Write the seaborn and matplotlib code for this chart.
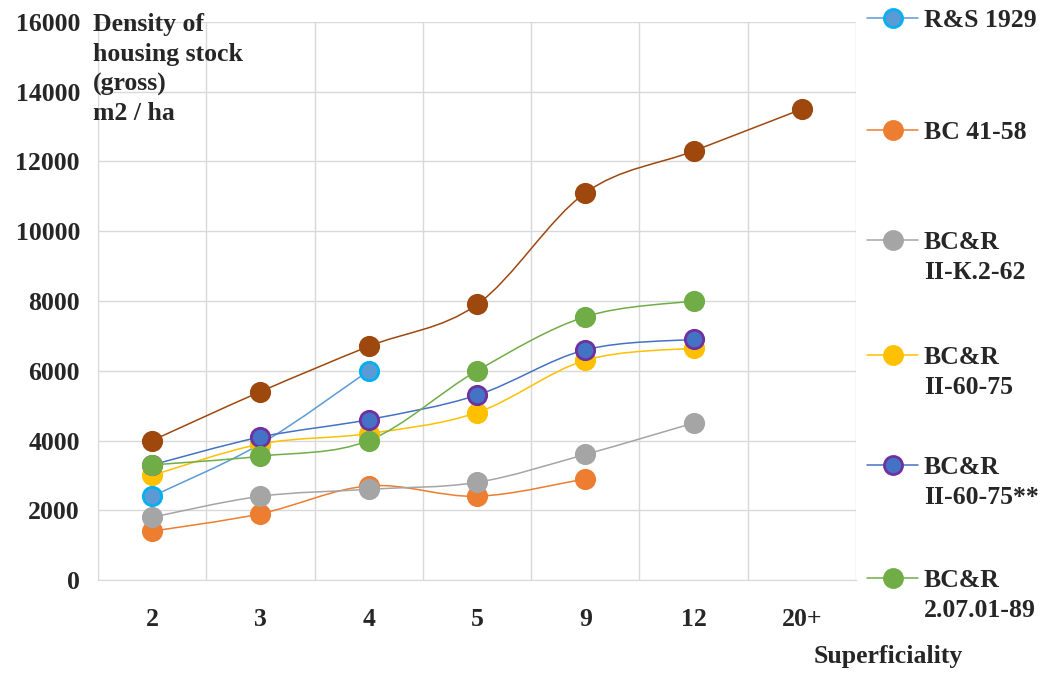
import numpy as np
import pandas as pd
import matplotlib.pyplot as plt
import seaborn as sns
from matplotlib.path import Path
from matplotlib.patches import PathPatch
from matplotlib.lines import Line2D

# Data
categories = ['2', '3', '4', '5', '9', '12', '20+']

rs_1929 = [2400, 3900, 6000]
bc_41_58 = [1400, 1900, 2700, 2400, 2900]
bcr_k2_62 = [1800, 2400, 2600, 2800, 3600, 4500]
bcr_60_75 = [3000, 3900, 4200, 4800, 6300, 6650]
bcr_60_75_ss = [3300, 4100, 4600, 5300, 6600, 6900]
bcr_2_07_01_89 = [3300, 3550, 4000, 6000, 7550, 8000]
unlabelled = [4000, 5400, 6700, 7900, 11100, 12300, 13500]

legend_labels = ['R&S 1929', 'BC 41-58', 'BC&R\nII-К.2-62', 'BC&R\nII-60-75',
                 'BC&R\nII-60-75**', 'BC&R\n2.07.01-89']

# (values, line colour, marker face, marker edge)
series = [
    (rs_1929, '#5B9BD5', '#5B9BD5', '#00B0F0'),
    (bc_41_58, '#ED7D31', '#ED7D31', '#ED7D31'),
    (bcr_k2_62, '#A5A5A5', '#A5A5A5', '#A5A5A5'),
    (bcr_60_75, '#FFC000', '#FFC000', '#FFC000'),
    (bcr_60_75_ss, '#4472C4', '#4472C4', '#7030A0'),
    (bcr_2_07_01_89, '#70AD47', '#70AD47', '#70AD47'),
    (unlabelled, '#9E480E', '#9E480E', '#9E480E'),
]


def smooth_path(xs, ys):
    # Excel-like smoothed line: cubic Bezier segments through the data points
    pts = np.column_stack([xs, ys]).astype(float)
    n = len(pts)
    verts = [pts[0]]
    codes = [Path.MOVETO]
    for i in range(n - 1):
        p0 = pts[max(i - 1, 0)]
        p1 = pts[i]
        p2 = pts[i + 1]
        p3 = pts[min(i + 2, n - 1)]
        verts += [p1 + (p2 - p0) / 6, p2 - (p3 - p1) / 6, p2]
        codes += [Path.CURVE4] * 3
    return Path(verts, codes)


sns.set_style('white')
plt.rcParams['font.family'] = ['Liberation Serif', 'DejaVu Serif']
plt.rcParams['font.weight'] = 'bold'
FS = 18.5

fig = plt.figure(figsize=(10.49, 6.75), dpi=100)
ax = fig.add_axes([98 / 1049, 1 - 580 / 675, (856 - 98) / 1049, (580 - 22) / 675])

# lines first, markers on top
for vals, lc, fc, ec in series:
    xs = np.arange(len(vals))
    ax.add_patch(PathPatch(smooth_path(xs, vals), facecolor='none', edgecolor=lc,
                           lw=1.1, zorder=2))

for vals, lc, fc, ec in series:
    df = pd.DataFrame({'x': np.arange(len(vals)), 'y': vals})
    sns.scatterplot(data=df, x='x', y='y', ax=ax, s=175, color=fc, edgecolor=ec,
                    linewidth=2, zorder=3, legend=False)

ax.set_xlim(-0.5, 6.5)
ax.set_ylim(0, 16000)
ax.set_xticks(range(len(categories)))
ax.set_xticklabels(categories)
ax.set_xticks(np.arange(-0.5, 7, 1), minor=True)
ax.set_yticks(np.arange(0, 16001, 2000))
ax.set_xlabel('')
ax.set_ylabel('')
ax.grid(False)
ax.yaxis.grid(True, color='#D9D9D9', lw=1)
ax.xaxis.grid(True, which='minor', color='#D9D9D9', lw=1)
ax.set_axisbelow(True)
for side in ['top', 'right']:
    ax.spines[side].set_visible(False)
for side in ['left', 'bottom']:
    ax.spines[side].set_color('#D9D9D9')
ax.tick_params(axis='both', which='both', length=0, labelsize=FS)
ax.tick_params(axis='y', pad=13)
ax.tick_params(axis='x', pad=20)

fig.text(93 / 1049, 1 - 13 / 675, 'Density of\nhousing stock\n(gross)\nm2 / ha',
         fontsize=FS, fontweight='bold', va='top', ha='left', linespacing=1.37)
fig.text(888 / 1049, 1 - 657 / 675, 'Superficiality', fontsize=FS,
         fontweight='bold', va='center', ha='center')

# legend drawn by hand to match the spacing of the original
legend_y = [18, 130, 240, 355, 465, 578]
for (vals, lc, fc, ec), label, yy in zip(series, legend_labels, legend_y):
    yf = 1 - yy / 675
    fig.add_artist(Line2D([867 / 1049, 918 / 1049], [yf, yf], color=lc, lw=1.1,
                          transform=fig.transFigure))
    fig.add_artist(Line2D([893 / 1049], [yf], marker='o', ms=13, mfc=fc, mec=ec,
                          mew=2, transform=fig.transFigure))
    fig.text(924 / 1049, 1 - (yy - 9) / 675, label, fontsize=FS,
             fontweight='bold', va='top', ha='left', linespacing=1.37)

fig.savefig('out.png', dpi=100)
plt.close('all')
